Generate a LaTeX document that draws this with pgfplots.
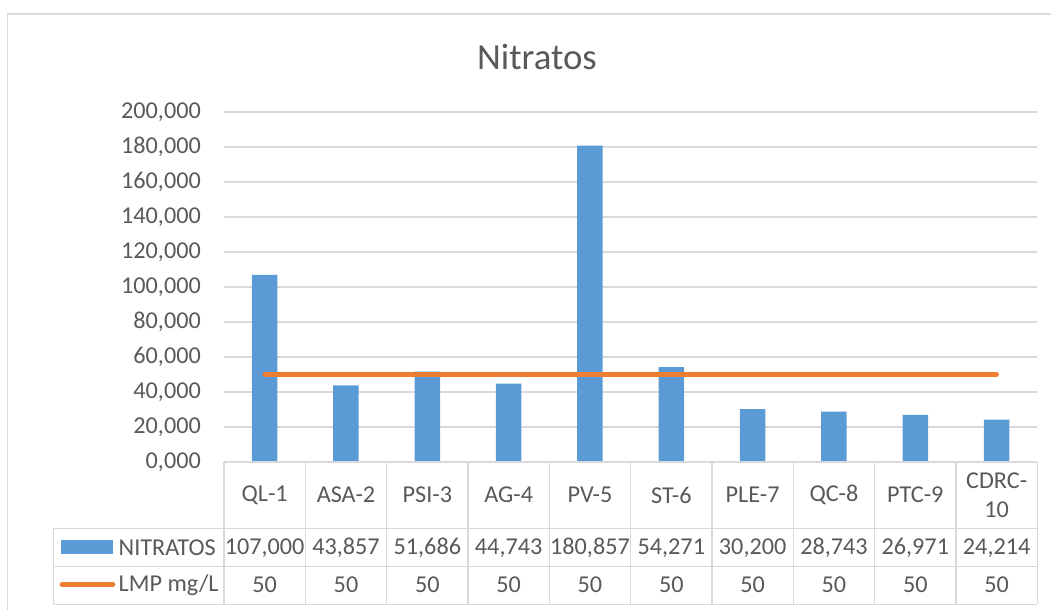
\documentclass[border=0pt]{standalone}
\usepackage{pgfplots}
\usepackage{pgfplotstable}
\pgfplotsset{compat=1.18}
\usepackage{fontspec}
\setmainfont{Carlito}
\definecolor{barblue}{HTML}{5B9BD5}
\definecolor{lmporange}{HTML}{ED7D31}
\definecolor{txtgray}{HTML}{595959}
\definecolor{gridgray}{HTML}{D9D9D9}
\newcommand{\tfont}{\fontsize{24.2}{28.5}\selectfont}

\pgfplotstableread{
x v
0.5 107.000
1.5 43.857
2.5 51.686
3.5 44.743
4.5 180.857
5.5 54.271
6.5 30.200
7.5 28.743
8.5 26.971
9.5 24.214
}\nitratos

\pgfplotstableread{
x v
0.5 50
1.5 50
2.5 50
3.5 50
4.5 50
5.5 50
6.5 50
7.5 50
8.5 50
9.5 50
}\lmp

\begin{document}
\begin{tikzpicture}
\useasboundingbox (0pt,0pt) rectangle (1051pt,-610pt);
% chart frame
\draw[gridgray, line width=1.3pt] (7.5pt,-610pt) -- (7.5pt,-14pt) -- (1051pt,-14pt);
% title
\node[txtgray, font=\fontsize{36.8}{44}\selectfont] at (537pt,-57pt) {Nitratos};

\begin{axis}[
  at={(224pt,-462pt)}, anchor=south west,
  scale only axis, width=813.3pt, height=350pt,
  xmin=0, xmax=10, ymin=0, ymax=200,
  axis lines*=left, axis line style={draw=none},
  tick style={draw=none}, major tick length=0pt,
  ytick={0,20,...,200},
  ymajorgrids, major grid style={draw=gridgray, line width=1.3pt},
  /pgf/number format/assume math mode=true,
  yticklabel style={/pgf/number format/.cd, fixed, fixed zerofill, precision=3, use comma,
    /tikz/.cd, anchor=east, inner sep=0pt, xshift=-23pt, text=txtgray,
    font=\tfont},
  xtick={0.5,1.5,...,9.5},
  xticklabels={QL-1,ASA-2,PSI-3,AG-4,PV-5,ST-6,PLE-7,QC-8,PTC-9,{CDRC-\\10}},
  xticklabel style={align=center, anchor=center, yshift=-33pt, inner sep=0pt,
    text=txtgray, font=\tfont},
  clip=false,
]
\addplot[ybar, bar width=25.5pt, bar shift=0pt, fill=barblue, draw=none] table[x=x, y=v] {\nitratos};
\addplot[lmporange, line width=4.6pt, line cap=round, mark=none] table[x=x, y=v] {\lmp};
% data table values
\addplot[draw=none, mark=none, point meta=explicit,
  nodes near coords={\pgfmathprintnumber[fixed, fixed zerofill, precision=3, use comma]{\pgfplotspointmeta}},
  every node near coord/.append style={anchor=center, yshift=-86pt, inner sep=0pt, text=txtgray,
    font=\tfont}]
  table[x=x, y expr=0, meta=v] {\nitratos};
\addplot[draw=none, mark=none, point meta=explicit,
  nodes near coords={\pgfmathprintnumber[fixed, precision=0]{\pgfplotspointmeta}},
  every node near coord/.append style={anchor=center, yshift=-123pt, inner sep=0pt, text=txtgray,
    font=\tfont}]
  table[x=x, y expr=0, meta=v] {\lmp};
\end{axis}

% data table grid
\begin{scope}[gridgray, line width=1.3pt]
\draw (224pt,-462pt) -- (1037.3pt,-462pt);
\draw (53.3pt,-528.7pt) -- (1037.3pt,-528.7pt);
\draw (53.3pt,-566.7pt) -- (1037.3pt,-566.7pt);
\draw (53.3pt,-604.3pt) -- (1037.3pt,-604.3pt);
\draw (53.3pt,-528.7pt) -- (53.3pt,-604.3pt);
\foreach \i in {0,...,10} {
  \draw ({(224+\i*81.33)*1pt},-462pt) -- ({(224+\i*81.33)*1pt},-604.3pt);
}
\end{scope}
% legend keys
\fill[barblue] (61pt,-540pt) rectangle (113pt,-553.5pt);
\draw[lmporange, line width=4.6pt, line cap=round] (62pt,-584.5pt) -- (113pt,-584.5pt);
\node[anchor=west, inner sep=0pt, text=txtgray, font=\tfont] at (118.5pt,-548pt) {NITRATOS};
\node[anchor=west, inner sep=0pt, text=txtgray, font=\tfont] at (118.5pt,-585.5pt) {LMP mg/L};
\end{tikzpicture}
\end{document}
